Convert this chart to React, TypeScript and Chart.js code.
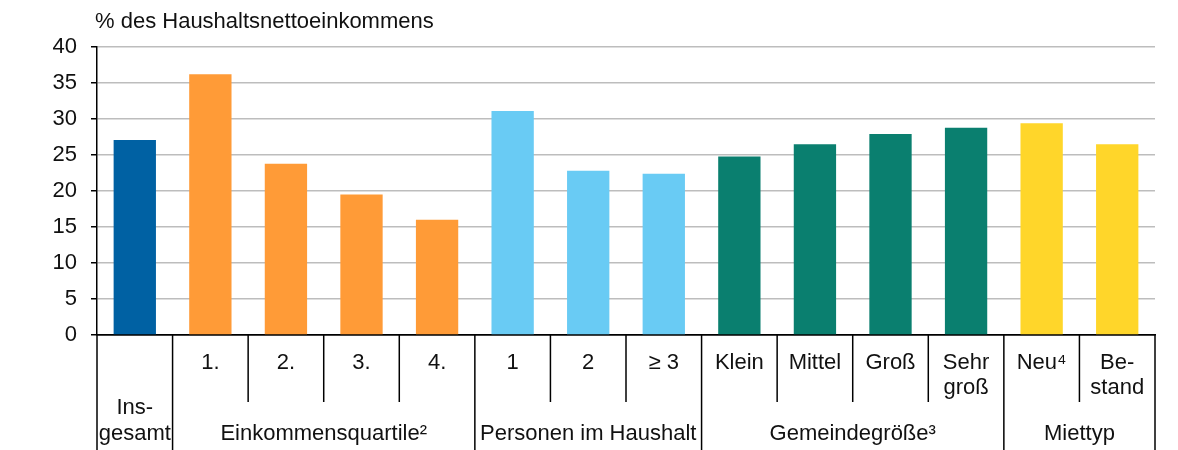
import React, { useEffect, useRef } from 'react';
import { Chart, registerables } from 'chart.js';

Chart.register(...registerables);

const categoryLabels: string[][] = [
  [''], ['1.'], ['2.'], ['3.'], ['4.'], ['1'], ['2'], ['≥ 3'],
  ['Klein'], ['Mittel'], ['Groß'], ['Sehr', 'groß'], ['Neu⁴'], ['Be-', 'stand'],
];
const values = [27.1, 36.2, 23.8, 19.5, 16.0, 31.1, 22.8, 22.4, 24.8, 26.5, 27.9, 28.8, 29.4, 26.5];
const barColors = [
  '#0061A3',
  '#FF9B37', '#FF9B37', '#FF9B37', '#FF9B37',
  '#69CBF4', '#69CBF4', '#69CBF4',
  '#0A7F6F', '#0A7F6F', '#0A7F6F', '#0A7F6F',
  '#FFD62A', '#FFD62A',
];
const groupLabels: string[][] = [['Ins-', 'gesamt'], ['Einkommensquartile²'], ['Personen im Haushalt'], ['Gemeindegröße³'], ['Miettyp']];
const groupStarts = [0, 1, 5, 8, 12];
const groupEnds = [0, 4, 7, 11, 13];
const yTickValues = [0, 5, 10, 15, 20, 25, 30, 35, 40];
const yTitle = '% des Haushaltsnettoeinkommens';

const FONT = '"Liberation Sans", Arial, sans-serif';
const FONT_SIZE = 22;

const categoryPlugin = {
  id: 'categoryPlugin',
  afterDraw(chart: any) {
    const { ctx, chartArea } = chart;
    const x = chart.scales.x;
    const n = categoryLabels.length;
    const step = (chartArea.right - chartArea.left) / n;
    const edge = (i: number) => x.getPixelForValue(i) - step / 2;
    const bottom = chart.height;
    const top = chartArea.bottom;
    ctx.save();
    ctx.strokeStyle = '#000';
    ctx.lineWidth = 1.5;
    const groupEdges = new Set<number>();
    groupStarts.forEach((s) => groupEdges.add(s));
    groupEdges.add(n);
    for (let i = 0; i <= n; i++) {
      const px = i === n ? x.getPixelForValue(n - 1) + step / 2 : edge(i);
      const yEnd = groupEdges.has(i) ? bottom : top + 67;
      ctx.beginPath();
      ctx.moveTo(px, top);
      ctx.lineTo(px, yEnd);
      ctx.stroke();
    }
    ctx.fillStyle = '#111';
    ctx.font = `${FONT_SIZE}px ${FONT}`;
    ctx.textAlign = 'center';
    ctx.textBaseline = 'middle';
    categoryLabels.forEach((lines, i) => {
      const cx = x.getPixelForValue(i);
      lines.forEach((t, j) => {
        ctx.fillText(t, cx, top + 28 + j * 25);
      });
    });
    groupLabels.forEach((lines, g) => {
      const cx = (x.getPixelForValue(groupStarts[g]) + x.getPixelForValue(groupEnds[g])) / 2;
      const m = lines.length;
      lines.forEach((t, j) => {
        ctx.fillText(t, cx, top + 99 - (m - 1 - j) * 26);
      });
    });
    ctx.textAlign = 'left';
    ctx.fillText(yTitle, 95, 22);
    ctx.restore();
  },
};

export default function App() {
  const ref = useRef<HTMLCanvasElement>(null);
  useEffect(() => {
    if (!ref.current) return;
    const chart = new Chart(ref.current, {
      type: 'bar',
      data: {
        labels: categoryLabels.map((l) => l.join(' ')),
        datasets: [
          {
            data: values,
            backgroundColor: barColors,
            barPercentage: 0.56,
            categoryPercentage: 1,
          },
        ],
      },
      options: {
        animation: false,
        responsive: false,
        devicePixelRatio: 1,
        layout: { padding: { top: 47, right: 23, left: 0, bottom: 0 } },
        plugins: { legend: { display: false }, tooltip: { enabled: false }, title: { display: false } },
        scales: {
          x: {
            grid: { display: false },
            ticks: { display: false },
            border: { display: true, color: '#000', width: 1.5 },
            afterFit: (s: any) => { s.height = 115; },
          },
          y: {
            min: 0,
            max: 40,
            afterBuildTicks: (s: any) => { s.ticks = yTickValues.map((v) => ({ value: v })); },
            afterFit: (s: any) => { s.width = 97; },
            grid: {
              color: (c: any) => (c.tick && c.tick.value === 0 ? '#000' : '#BDBDBD'),
              lineWidth: 1.5,
              tickColor: '#000',
              tickLength: 6,
            },
            border: { display: true, color: '#000', width: 1.5 },
            ticks: {
              color: '#111',
              padding: 14,
              font: { family: FONT, size: FONT_SIZE },
            },
          },
        },
      },
      plugins: [categoryPlugin],
    });
    return () => chart.destroy();
  }, []);
  return (
    <div style={{ position: 'fixed', left: 0, top: 0, width: 1178, height: 450, background: '#fff' }}>
      <canvas ref={ref} width={1178} height={450} style={{ width: 1178, height: 450 }} />
    </div>
  );
}
